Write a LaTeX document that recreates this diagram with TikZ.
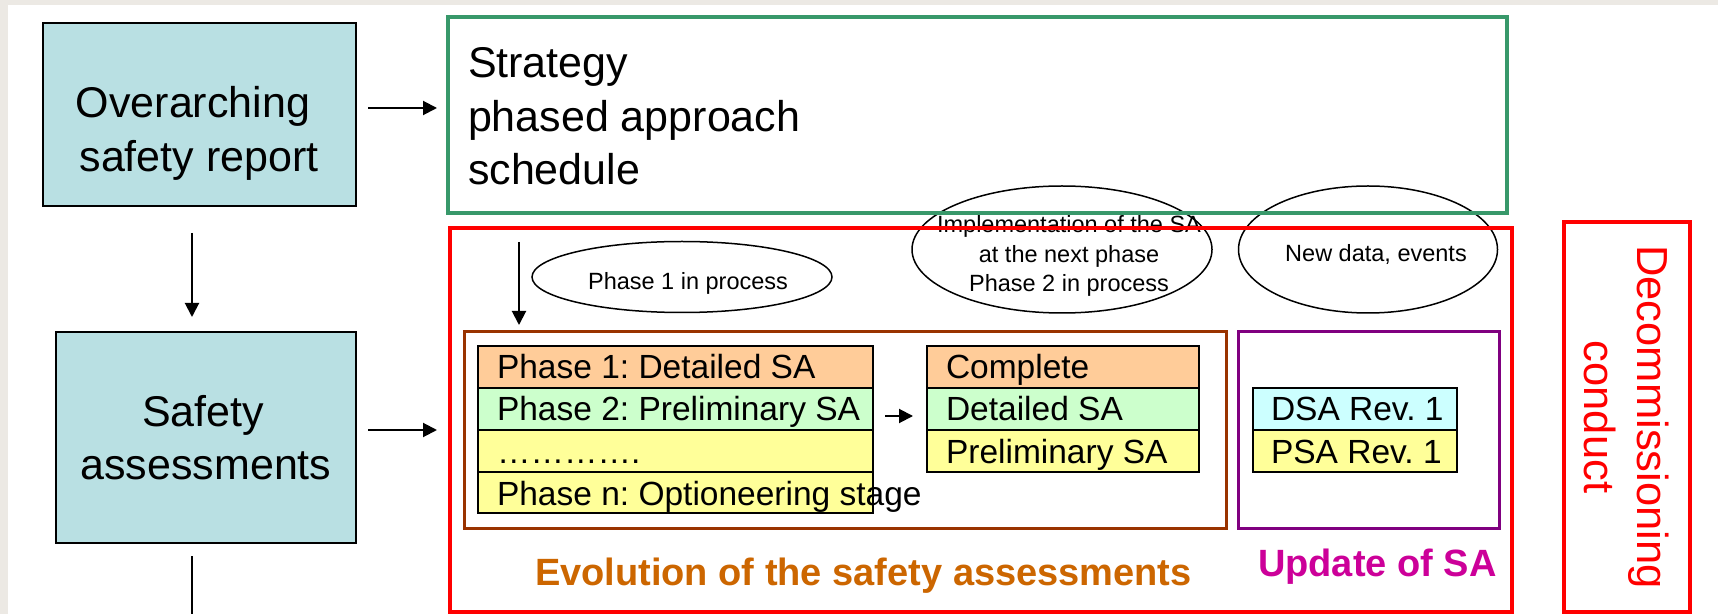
\documentclass[tikz,border=0pt]{standalone}
\usepackage{fontspec}
\setmainfont{Liberation Sans}
\usetikzlibrary{arrows.meta,fit,shapes.geometric}
\frenchspacing
\definecolor{bggrey}{RGB}{236,233,228}
\definecolor{boxblue}{RGB}{185,224,227}
\definecolor{stratgreen}{RGB}{56,152,106}
\definecolor{brownline}{RGB}{153,51,0}
\definecolor{purpleline}{RGB}{128,0,128}
\definecolor{evoorange}{RGB}{204,102,0}
\definecolor{updmagenta}{RGB}{204,0,153}
\definecolor{peach}{RGB}{255,204,153}
\definecolor{mint}{RGB}{204,255,204}
\definecolor{paleyellow}{RGB}{255,255,153}
\definecolor{palecyan}{RGB}{204,255,255}
\newcommand{\bigtxt}{\fontsize{21.5}{27}\selectfont}
\newcommand{\tabtxt}{\fontsize{16.75}{20}\selectfont}
\newcommand{\smalltxt}{\fontsize{11.75}{14.75}\selectfont}
\newcommand{\labtxt}{\fontsize{19}{23}\selectfont\bfseries}
\newcommand{\dectxt}{\fontsize{21.75}{26.5}\selectfont}
\begin{document}
\frenchspacing
\begin{tikzpicture}[x=0.5pt,y=-0.5pt,
  frame/.style={draw, inner sep=0pt, outer sep=0pt},
  bluebox/.style={frame, fill=boxblue, line width=1pt},
  greenbox/.style={frame, draw=stratgreen, line width=1.75pt},
  redbox/.style={frame, draw=red, line width=1.75pt},
  brownbox/.style={frame, draw=brownline, line width=1.5pt},
  purplebox/.style={frame, draw=purpleline, line width=1.5pt},
  cell/.style={frame, line width=1pt},
  oval/.style={ellipse, draw, line width=0.75pt, inner sep=0pt},
  txt/.style={inner sep=0pt, outer sep=0pt},
  arr/.style={line width=1pt, -{Triangle[length=7pt,width=7pt]}},
  plain/.style={line width=1pt}
]
\useasboundingbox (0,0) rectangle (1718,614);
\fill[bggrey] (0,0) rectangle (1718,614);
\fill[white] (8,5) rectangle (1718,614);

% left column
\node[bluebox, fit={(43,23) (356,206)}] (ov) {};
\node[txt, anchor=base, font=\bigtxt] (ovA) at (193,118) {Overarching};
\node[txt, anchor=base, font=\bigtxt] (ovB) at (199,172) {safety report};
\node[bluebox, fit={(56,332) (356,543)}] (sa) {};
\node[txt, anchor=base, font=\bigtxt] (saA) at (203,427) {Safety};
\node[txt, anchor=base, font=\bigtxt] (saB) at (206,480) {assessments};

% ellipses
\node[oval, minimum width=150pt, minimum height=35.5pt] (e1) at (682,277) {};
\node[txt, anchor=base, font=\smalltxt] (e1t) at (688,290) {Phase 1 in process};
\node[oval, minimum width=150pt, minimum height=63.5pt] (e2) at (1062,249.5) {};
\node[txt, anchor=base, font=\smalltxt] (e2a) at (1069,233) {Implementation of the SA};
\node[txt, anchor=base, font=\smalltxt] (e2b) at (1069,263) {at the next phase};
\node[txt, anchor=base, font=\smalltxt] (e2c) at (1069,292) {Phase 2 in process};
\node[oval, minimum width=129.5pt, minimum height=63.5pt] (e3) at (1368,249.5) {};
\node[txt, anchor=base, font=\smalltxt] (e3t) at (1376,262) {New data, events};

% main frames
\node[greenbox, fit={(448,17) (1507,213)}] (strat) {};
\node[txt, anchor=base west, font=\bigtxt] (st1) at (468,78) {Strategy};
\node[txt, anchor=base west, font=\bigtxt] (st2) at (468,132) {phased approach};
\node[txt, anchor=base west, font=\bigtxt] (st3) at (468,185) {schedule};
\node[redbox, fit={(450,228) (1512,612)}] (red) {};
\node[brownbox, fit={(464,332) (1226,528)}] (brown) {};
\node[purplebox, fit={(1238,332) (1499,528)}] (purple) {};
\node[redbox, fit={(1564,222) (1690,612)}] (decom) {};
\node[txt, rotate=-90, align=center, text=red, font=\dectxt] (decomt) at (1627,417) {Decommissioning\\conduct};

% phase table
\node[cell, fill=peach, fit={(478,346) (873,388)}] (p1) {};
\node[cell, fill=mint, fit={(478,388) (873,430)}] (p2) {};
\node[cell, fill=paleyellow, fit={(478,430) (873,472)}] (p3) {};
\node[cell, fill=paleyellow, fit={(478,472) (873,513)}] (p4) {};
\node[txt, anchor=base west, font=\tabtxt] (p1t) at (497,379) {Phase 1: Detailed SA};
\node[txt, anchor=base west, font=\tabtxt] (p2t) at (497,421) {Phase 2: Preliminary SA};
\node[txt, anchor=base west, font=\tabtxt] (p3t) at (497,463) {………….};
\node[txt, anchor=base west, font=\tabtxt] (p4t) at (497,505) {Phase n: Optioneering stage};

% complete table
\node[cell, fill=peach, fit={(927,346) (1199,388)}] (c1) {};
\node[cell, fill=mint, fit={(927,388) (1199,430)}] (c2) {};
\node[cell, fill=paleyellow, fit={(927,430) (1199,472)}] (c3) {};
\node[txt, anchor=base west, font=\tabtxt] (c1t) at (946,379) {Complete};
\node[txt, anchor=base west, font=\tabtxt] (c2t) at (946,421) {Detailed SA};
\node[txt, anchor=base west, font=\tabtxt] (c3t) at (946,463) {Preliminary SA};

% update table
\node[cell, fill=palecyan, fit={(1253,388) (1457,430)}] (d1) {};
\node[cell, fill=paleyellow, fit={(1253,430) (1457,472)}] (d2) {};
\node[txt, anchor=base west, font=\tabtxt] (d1t) at (1271,421) {DSA Rev. 1};
\node[txt, anchor=base west, font=\tabtxt] (d2t) at (1271,463) {PSA Rev. 1};

% labels
\node[txt, anchor=base west, font=\labtxt, text=evoorange] (evo) at (535,585) {Evolution of the safety assessments};
\node[txt, anchor=base west, font=\labtxt, text=updmagenta] (upd) at (1258,576) {Update of SA};

% connectors
\draw[arr] ([shift={(12,-6.5)}]ov.east) -- ([shift={(-11,-7)}]strat.west);
\draw[arr] ([shift={(12,-7.5)}]sa.east) -- ([shift={(-13,10)}]red.west);
\draw[arr] ([shift={(-7.5,27)}]ov.south) -- ([shift={(-14,-15)}]sa.north);
\coordinate (downend) at (192,614);
\draw[plain] ([shift={(-14,13)}]sa.south) -- (downend);
\draw[arr] ([shift={(69,14)}]red.north west) -- ([shift={(55,-7)}]brown.north west);
\draw[arr] ([shift={(12,7)}]p2.east) -- ([shift={(-14,7)}]c2.west);
\end{tikzpicture}
\end{document}
